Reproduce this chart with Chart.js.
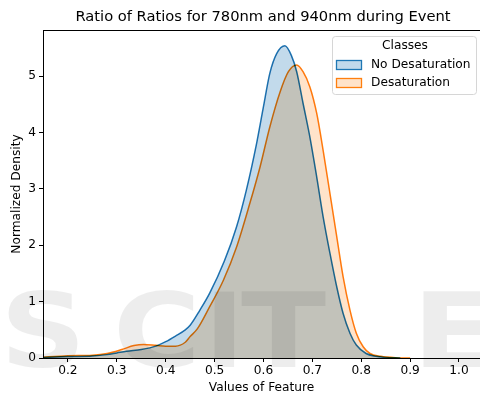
<!DOCTYPE html>
<html>
<head>
<meta charset="utf-8">
<script src="https://cdn.jsdelivr.net/npm/chart.js@4/dist/chart.umd.min.js"></script>
<style>
  html, body { margin: 0; padding: 0; background: #fff; }
  canvas { display: block; }
</style>
</head>
<body>
<canvas id="kde" width="480" height="397"></canvas>
<script>
// density estimates per class, read at x positions
var noDesatX = [0.14, 0.20, 0.25, 0.28, 0.30, 0.32, 0.35, 0.38, 0.40, 0.42, 0.44, 0.45, 0.47, 0.49, 0.52, 0.545, 0.565, 0.586, 0.60, 0.613, 0.627, 0.644, 0.657, 0.668, 0.681, 0.695, 0.709, 0.722, 0.736, 0.75, 0.763, 0.777, 0.79, 0.81, 0.83, 0.85, 0.88];
var noDesatY = [0.005, 0.025, 0.035, 0.06, 0.09, 0.12, 0.15, 0.21, 0.29, 0.39, 0.50, 0.58, 0.85, 1.15, 1.72, 2.33, 2.98, 3.81, 4.46, 5.05, 5.40, 5.54, 5.37, 5.08, 4.52, 3.92, 3.21, 2.51, 1.86, 1.26, 0.79, 0.44, 0.23, 0.08, 0.03, 0.01, 0.0];
var desatX = [0.14, 0.20, 0.25, 0.28, 0.31, 0.335, 0.355, 0.38, 0.40, 0.42, 0.44, 0.45, 0.465, 0.49, 0.518, 0.545, 0.572, 0.593, 0.613, 0.634, 0.651, 0.668, 0.681, 0.695, 0.709, 0.722, 0.736, 0.75, 0.763, 0.777, 0.79, 0.804, 0.818, 0.84, 0.87, 0.90];
var desatY = [0.01, 0.04, 0.05, 0.08, 0.15, 0.22, 0.24, 0.225, 0.21, 0.21, 0.28, 0.38, 0.52, 0.91, 1.38, 1.97, 2.74, 3.39, 4.10, 4.72, 5.08, 5.20, 5.08, 4.81, 4.34, 3.69, 2.92, 2.15, 1.44, 0.85, 0.44, 0.20, 0.08, 0.03, 0.005, 0.0];
var classNames = ["No Desaturation", "Desaturation"];
var xTicks = [0.2, 0.3, 0.4, 0.5, 0.6, 0.7, 0.8, 0.9, 1.0];
var yTicks = [0, 1, 2, 3, 4, 5];

var font = "'DejaVu Sans', sans-serif";

function toPoints(xs, ys) {
    var pts = [];
    for (var i = 0; i < xs.length; i++) {
        pts.push({ x: xs[i], y: ys[i] });
    }
    return pts;
}

// fills overlap in multiply mode so the shared area turns grey
var blendPlugin = {
    id: "blend",
    beforeDatasetsDraw: function(chart) {
        chart.ctx.save();
        chart.ctx.globalCompositeOperation = "multiply";
    },
    afterDatasetsDraw: function(chart) {
        chart.ctx.restore();
    }
};

// draws one wide letter of the background logo
function logoLetter(ctx, ch, x, stretch) {
    ctx.save();
    ctx.translate(x, 367);
    ctx.scale(stretch, 1);
    ctx.fillText(ch, 0, 0);
    ctx.restore();
}

// title, top spine, legend box and the faint logo
var decorPlugin = {
    id: "decor",
    afterDraw: function(chart) {
        var ctx = chart.ctx;
        var area = chart.chartArea;
        ctx.save();

        ctx.fillStyle = "rgba(0,0,0,0.07)";
        ctx.font = "bold 104px " + font;
        ctx.textBaseline = "alphabetic";
        ctx.textAlign = "left";
        logoLetter(ctx, "S", 0, 1.15);
        logoLetter(ctx, "C", 113, 1.15);
        logoLetter(ctx, "I", 205, 1);
        logoLetter(ctx, "T", 241, 1.2);
        logoLetter(ctx, "E", 412, 1.2);

        ctx.strokeStyle = "#000";
        ctx.lineWidth = 1;
        ctx.beginPath();
        ctx.moveTo(area.left, area.top + 0.5);
        ctx.lineTo(area.right, area.top + 0.5);
        ctx.stroke();

        ctx.fillStyle = "#000";
        ctx.font = "14.7px " + font;
        ctx.textAlign = "center";
        ctx.textBaseline = "middle";
        ctx.fillText("Ratio of Ratios for 780nm and 940nm during Event", 263, 17);

        // legend
        var lx = 332.5, ly = 36.5, lw = 144, lh = 58, r = 3;
        ctx.beginPath();
        ctx.moveTo(lx + r, ly);
        ctx.arcTo(lx + lw, ly, lx + lw, ly + lh, r);
        ctx.arcTo(lx + lw, ly + lh, lx, ly + lh, r);
        ctx.arcTo(lx, ly + lh, lx, ly, r);
        ctx.arcTo(lx, ly, lx + lw, ly, r);
        ctx.closePath();
        ctx.fillStyle = "rgba(255,255,255,0.8)";
        ctx.fill();
        ctx.strokeStyle = "#d6d6d6";
        ctx.stroke();

        ctx.fillStyle = "#000";
        ctx.font = "12.2px " + font;
        ctx.fillText("Classes", 405, 46);

        ctx.textAlign = "left";
        chart.data.datasets.forEach(function(ds, i) {
            var y = 65 + i * 18;
            ctx.fillStyle = ds.backgroundColor;
            ctx.fillRect(336.5, y - 4.5, 25, 9);
            ctx.strokeStyle = ds.borderColor;
            ctx.lineWidth = 1.3;
            ctx.strokeRect(336.5, y - 4.5, 25, 9);
            ctx.fillStyle = "#000";
            ctx.fillText(ds.label, 371, y);
        });
        ctx.restore();
    }
};

var ctx = document.getElementById("kde").getContext("2d");

new Chart(ctx, {
    type: "line",
    data: {
        datasets: [{
            label: classNames[0],
            data: toPoints(noDesatX, noDesatY),
            borderColor: "#1f77b4",
            backgroundColor: "rgba(31,119,180,0.27)",
            borderWidth: 1.5,
            pointRadius: 0,
            fill: "origin",
            cubicInterpolationMode: "monotone"
        }, {
            label: classNames[1],
            data: toPoints(desatX, desatY),
            borderColor: "#ff7f0e",
            backgroundColor: "rgba(255,127,14,0.22)",
            borderWidth: 1.5,
            pointRadius: 0,
            fill: "origin",
            cubicInterpolationMode: "monotone"
        }]
    },
    options: {
        responsive: false,
        animation: false,
        devicePixelRatio: 1,
        layout: { padding: { top: 30, right: 0, left: 0, bottom: 0 } },
        plugins: {
            legend: { display: false },
            title: { display: false },
            tooltip: { enabled: false }
        },
        scales: {
            x: {
                type: "linear",
                min: 0.149,
                max: 1.043,
                afterBuildTicks: function(scale) {
                    scale.ticks = xTicks.map(function(v) { return { value: v }; });
                },
                afterFit: function(scale) { scale.height = 39; },
                ticks: {
                    color: "#000",
                    font: { family: font, size: 12.2 },
                    padding: 2,
                    maxRotation: 0,
                    callback: function(v) { return v.toFixed(1); }
                },
                grid: { drawOnChartArea: false, drawTicks: true, tickLength: 4, color: "#000" },
                border: { display: true, color: "#000", width: 1 },
                title: {
                    display: true,
                    text: "Values of Feature",
                    color: "#000",
                    font: { family: font, size: 12.2 },
                    padding: { top: 0, bottom: 2 }
                }
            },
            y: {
                min: 0,
                max: 5.82,
                afterBuildTicks: function(scale) {
                    scale.ticks = yTicks.map(function(v) { return { value: v }; });
                },
                afterFit: function(scale) { scale.width = 43; },
                ticks: {
                    color: "#000",
                    font: { family: font, size: 12.2 },
                    padding: 3
                },
                grid: { drawOnChartArea: false, drawTicks: true, tickLength: 4, color: "#000" },
                border: { display: true, color: "#000", width: 1 },
                title: {
                    display: true,
                    text: "Normalized Density",
                    color: "#000",
                    font: { family: font, size: 12.2 },
                    padding: { top: 10, bottom: 0 }
                }
            }
        }
    },
    plugins: [blendPlugin, decorPlugin]
});
</script>
</body>
</html>
